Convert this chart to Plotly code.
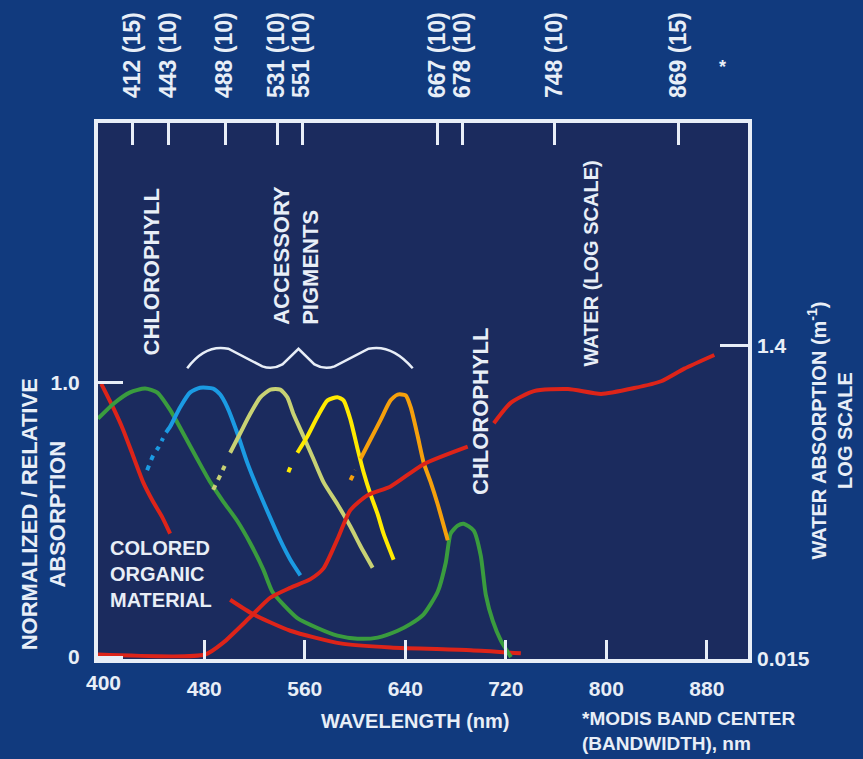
import plotly.graph_objects as go

FONT = "Liberation Sans, Arial, Helvetica, sans-serif"
WHITE = "#e8eef7"

# ---------------- data ----------------
# Colored organic material (CDOM), left axis, two drawn pieces
cdom_wl_a = [398, 407.3, 415.3, 423.3, 431.3, 439.2, 446.4, 452.8]
cdom_val_a = [0.996, 0.911, 0.830, 0.734, 0.638, 0.567, 0.511, 0.450]
cdom_wl_b = [500.6, 519.0, 548.5, 588.4, 628.3, 692.1, 732.0]
cdom_val_b = [0.209, 0.156, 0.096, 0.050, 0.035, 0.025, 0.014]

# Chlorophyll, left axis
chl_wl = [395.4, 407.3, 420.9, 432.9, 442.4, 452.8, 463.2, 474.3, 484.7, 495.1,
          506.3, 516.6, 527.0, 534.2, 543.0, 554.1, 570.1, 586.0, 602.0, 617.9,
          633.9, 644.3, 654.6, 665.8, 672.2, 676.1, 681.7, 686.5, 694.5, 700.1,
          704.1, 709.7, 716.1, 724.1]
chl_val = [0.869, 0.922, 0.965, 0.979, 0.965, 0.901, 0.816, 0.723, 0.638, 0.567,
           0.496, 0.415, 0.319, 0.238, 0.191, 0.142, 0.106, 0.078, 0.067, 0.071,
           0.096, 0.121, 0.156, 0.238, 0.344, 0.450, 0.479, 0.486, 0.461, 0.369,
           0.227, 0.131, 0.060, 0.0]

# Accessory pigments (dotted lead-in + solid part), left axis
blue_dot_wl = [434.5, 439.2, 443.2, 447.2]
blue_dot_val = [0.681, 0.734, 0.762, 0.798]
blue_wl = [449.5, 452.8, 460.8, 468.8, 476.7, 487.1, 492.7, 498.3, 506.3, 514.2,
           522.2, 530.2, 540.5, 548.5, 556.5]
blue_val = [0.819, 0.840, 0.911, 0.965, 0.982, 0.979, 0.957, 0.911, 0.816, 0.709,
            0.617, 0.532, 0.426, 0.355, 0.298]

khaki_dot_wl = [487.1, 492.7, 497.5]
khaki_dot_val = [0.610, 0.663, 0.709]
khaki_wl = [500.6, 508.6, 516.6, 524.6, 532.6, 540.5, 546.1, 550.9, 558.9, 566.8,
            574.9, 586.0, 596.4, 604.4, 614.0]
khaki_val = [0.745, 0.816, 0.887, 0.947, 0.975, 0.975, 0.947, 0.887, 0.805, 0.723,
             0.638, 0.557, 0.475, 0.404, 0.326]

yellow_dot_wl = [546.9, 550.1]
yellow_dot_val = [0.674, 0.709]
yellow_wl = [554.1, 562.1, 570.1, 578.1, 586.0, 590.8, 596.4, 602.0, 606.8, 612.4,
             618.0, 622.7, 630.7]
yellow_val = [0.745, 0.805, 0.876, 0.936, 0.947, 0.936, 0.865, 0.759, 0.674, 0.592,
              0.521, 0.450, 0.355]

orange_dot_wl = [596.4, 600.4]
orange_dot_val = [0.645, 0.681]
orange_wl = [604.4, 612.4, 620.4, 628.3, 633.9, 640.3, 644.3, 649.9, 654.6, 660.2,
             665.8, 673.8]
orange_val = [0.723, 0.794, 0.865, 0.936, 0.957, 0.954, 0.911, 0.805, 0.709, 0.638,
              0.557, 0.426]

# Water absorption (m^-1), right log axis, drawn with a gap at the label
water_wl = [395.4, 480.7, 495.1, 516.6, 532.6, 548.5, 564.5, 574.9, 586.0, 596.4,
            610.0, 628.3, 654.6, 689.7, None, 710.5, 724.1, 742.4, 769.5, 795.9,
            822.2, 843.7, 862.1, 886.0]
water_val = [0.016, 0.016, 0.019, 0.0275, 0.0364, 0.042, 0.0476, 0.0556, 0.0848, 0.1294,
             0.160, 0.1816, 0.2506, 0.323, None, 0.453, 0.610, 0.721, 0.742, 0.692,
             0.753, 0.831, 0.997, 1.215]

# Axis ticks
bottom_ticks = [480, 560, 640, 720, 800, 880]
left_ticks = [0, 1.0]
left_labels = ["0", "1.0"]
right_ticks = [0.015, 1.4]
right_labels = ["0.015", "1.4"]
modis_tick_pos_nm = [423.2, 451.9, 496.5, 537.9, 557.8, 666.0, 685.9, 758.4, 857.1]
modis_labels = ["412 (15)", "443 (10)", "488 (10)", "531 (10)", "551 (10)",
                "667 (10)", "678 (10)", "748 (10)", "869 (15)"]

X_RANGE = [395.4, 912.8]
Y_RANGE = [-0.007, 1.947]
Y2_RANGE_LOG = [-1.8239, 1.5406]

RED = "#dd2419"
GREEN = "#3a9c3e"
BLUE = "#1b9be3"
KHAKI = "#c8d274"
YELLOW = "#ffea00"
ORANGE = "#f6a00c"

fig = go.Figure()


def add_line(x, y, color, dot=False, yaxis="y"):
    fig.add_trace(go.Scatter(
        x=x, y=y, mode="lines", yaxis=yaxis, hoverinfo="skip",
        line=dict(color=color, width=4, shape="spline", smoothing=0.6,
                  dash="5px,6px" if dot else "solid"),
        connectgaps=False, showlegend=False))


add_line(water_wl, water_val, RED, yaxis="y2")
add_line(cdom_wl_a, cdom_val_a, RED)
add_line(cdom_wl_b, cdom_val_b, RED)
add_line(chl_wl, chl_val, GREEN)
add_line(blue_dot_wl, blue_dot_val, BLUE, dot=True)
add_line(blue_wl, blue_val, BLUE)
add_line(khaki_dot_wl, khaki_dot_val, KHAKI, dot=True)
add_line(khaki_wl, khaki_val, KHAKI)
add_line(yellow_dot_wl, yellow_dot_val, YELLOW, dot=True)
add_line(yellow_wl, yellow_val, YELLOW)
add_line(orange_dot_wl, orange_dot_val, ORANGE, dot=True)
add_line(orange_wl, orange_val, ORANGE)

# invisible trace to activate the top (MODIS band) axis
fig.add_trace(go.Scatter(x=[X_RANGE[0], X_RANGE[1]], y=[None, None], xaxis="x2",
                         showlegend=False, hoverinfo="skip", mode="lines"))

tickfont = dict(family=FONT, size=21, color=WHITE, weight="bold")

fig.update_layout(
    width=863, height=759,
    margin=dict(l=98, r=115, t=110, b=100),
    paper_bgcolor="#113a7e",
    plot_bgcolor="#1b2b5e",
    showlegend=False,
    hovermode=False,
    xaxis=dict(range=X_RANGE, showgrid=False, zeroline=False,
               showline=True, linecolor=WHITE, linewidth=4, mirror=True,
               tickvals=bottom_ticks, ticktext=[str(v) for v in bottom_ticks],
               ticks="inside", ticklen=19, tickwidth=3, tickcolor=WHITE,
               ticklabelstandoff=8, tickfont=tickfont),
    xaxis2=dict(range=X_RANGE, overlaying="x", side="top", anchor="y",
                showgrid=False, zeroline=False,
                tickvals=modis_tick_pos_nm, ticktext=modis_labels,
                tickangle=-90, ticks="inside", ticklen=22, tickwidth=3,
                tickcolor=WHITE, ticklabelstandoff=24,
                tickfont=dict(family=FONT, size=23, color=WHITE, weight="bold")),
    yaxis=dict(range=Y_RANGE, showgrid=False, zeroline=False,
               showline=True, linecolor=WHITE, linewidth=4, mirror=True,
               tickvals=left_ticks, ticktext=left_labels,
               ticks="inside", ticklen=25, tickwidth=3, tickcolor=WHITE,
               ticklabelstandoff=10, tickfont=tickfont),
    yaxis2=dict(type="log", range=Y2_RANGE_LOG, overlaying="y", side="right",
                anchor="x", showgrid=False, zeroline=False,
                tickvals=right_ticks, ticktext=right_labels,
                ticks="inside", ticklen=28, tickwidth=3, tickcolor=WHITE,
                ticklabelstandoff=8, tickfont=tickfont),
)

# Curly brace over the accessory pigments
brace = ("M 466.4,1.053 Q 480.8,1.142 499.1,1.124 L 526.2,1.060 "
         "Q 534.2,1.046 542.2,1.067 L 555.0,1.124 L 567.7,1.067 "
         "Q 575.7,1.046 583.7,1.060 L 610.8,1.124 Q 629.2,1.142 645.9,1.053")
fig.add_shape(type="path", path=brace, xref="x", yref="y",
              line=dict(color=WHITE, width=2.5))


def ann(text, x, y, size, angle=0, xanchor="center", align="center",
        xref="paper", yref="paper", yshift=0):
    fig.add_annotation(text=text, x=x, y=y, xref=xref, yref=yref,
                       textangle=angle, showarrow=False, xanchor=xanchor,
                       yanchor="middle", align=align, yshift=yshift,
                       font=dict(family=FONT, size=size, color=WHITE, weight="bold"))


# "400" label at the left edge (no tick mark there)
ann("400", 400, 0, 21, xref="x", yshift=-23)

ann("NORMALIZED / RELATIVE<br>ABSORPTION", -0.083, 0.27, 22, angle=-90)
ann("WATER ABSORPTION (m<sup>-1</sup>)<br>LOG SCALE", 1.126, 0.426, 20, angle=-90)
ann("WAVELENGTH (nm)", 0.488, -0.115, 20)
ann("*MODIS BAND CENTER<br>(BANDWIDTH), nm", 0.7415, -0.135, 19,
    xanchor="left", align="left")
ann("*", 0.9615, 1.105, 18)

ann("CHLOROPHYLL", 0.0815, 0.723, 22, angle=-90)
ann("ACCESSORY<br>PIGMENTS", 0.3046, 0.754, 22, angle=-90, align="left")
ann("CHLOROPHYLL", 0.5892, 0.4627, 22, angle=-90)
ann("WATER (LOG SCALE)", 0.7585, 0.7377, 20, angle=-90)
ann("COLORED<br>ORGANIC<br>MATERIAL", 0.0154, 0.1585, 20,
    xanchor="left", align="left")

fig.write_html("out.html",
               config={"displayModeBar": False},
               post_script="document.body.style.margin='0';"
                           "document.body.style.overflow='hidden';")
